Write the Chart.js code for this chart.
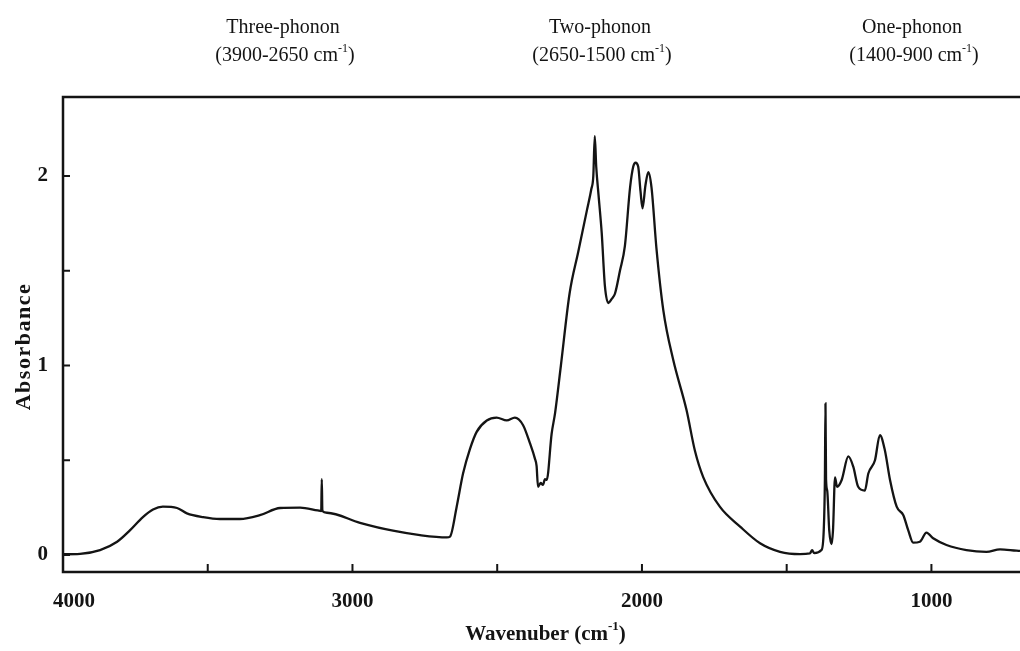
<!DOCTYPE html>
<html>
<head>
<meta charset="utf-8">
<script src="https://cdn.jsdelivr.net/npm/chart.js@4.4.1/dist/chart.umd.min.js"></script>
<style>
  html, body { margin: 0; padding: 0; background: #ffffff; }
  #wrap { width: 1020px; height: 651px; }
</style>
</head>
<body>
<div id="wrap"><canvas id="spectrum" width="1020" height="651"></canvas></div>
<script>
// ─── Data ─────────────────────────────────────────────────────────────────────

const wavenumbers = [
  4000, 3993, 3941, 3872, 3813, 3769, 3724, 3689, 3655, 3606, 3572, 3516, 3458,
  3389, 3320, 3250, 3181, 3120, 3108, 3106, 3104, 3088, 2974, 2860, 2767, 2674,
  2663, 2640, 2618, 2594, 2571, 2536, 2502, 2467, 2439, 2411, 2387, 2370, 2364,
  2359, 2350, 2342, 2335, 2329, 2312, 2300, 2280, 2250, 2220, 2190, 2175, 2168,
  2163, 2158, 2150, 2139, 2128, 2116, 2105, 2093, 2076, 2059, 2041, 2030, 2022,
  2013, 2005, 1998, 1988, 1978, 1967, 1950, 1926, 1892, 1846, 1817, 1788, 1731,
  1661, 1592, 1523, 1454, 1420, 1412, 1405, 1380, 1372, 1368, 1366, 1364, 1360,
  1353, 1345, 1340, 1333, 1326, 1310, 1287, 1270, 1253, 1230, 1218, 1195, 1178,
  1161, 1143, 1120, 1097, 1080, 1063, 1040, 1017, 994, 948, 879, 810, 763, 706, 694,
];

const absorbance = [
  0.005, 0.004, 0.006, 0.026, 0.07, 0.13, 0.2, 0.24, 0.255, 0.248, 0.22, 0.2, 0.19,
  0.19, 0.21, 0.248, 0.25, 0.235, 0.232, 0.4, 0.232, 0.223, 0.17, 0.128, 0.105, 0.093,
  0.097, 0.255, 0.43, 0.56, 0.65, 0.71, 0.725, 0.71, 0.725, 0.686, 0.59, 0.51, 0.47,
  0.36, 0.38, 0.37, 0.4, 0.396, 0.64, 0.75, 1.0, 1.38, 1.6, 1.82, 1.93, 2.0,
  2.21, 2.05, 1.9, 1.7, 1.42, 1.33, 1.35, 1.38, 1.5, 1.63, 1.94, 2.05, 2.07,
  2.05, 1.92, 1.83, 1.95, 2.02, 1.94, 1.62, 1.29, 1.03, 0.765, 0.55, 0.41, 0.255,
  0.15, 0.062, 0.017, 0.005, 0.008, 0.025, 0.01, 0.026, 0.13, 0.4, 0.8, 0.4, 0.34,
  0.13, 0.058, 0.13, 0.41, 0.36, 0.396, 0.52, 0.466, 0.36, 0.34, 0.43, 0.5, 0.633,
  0.554, 0.396, 0.255, 0.21, 0.13, 0.065, 0.07, 0.118, 0.088, 0.053, 0.026, 0.017, 0.03, 0.023, 0.022,
];

const xMajorTicks = [4000, 3000, 2000, 1000];
const xMinorTicks = [3500, 2500, 1500];
const yMajorTicks = [0, 1, 2];
const yMinorTicks = [0.5, 1.5];

const phononNames = ['Three-phonon', 'Two-phonon', 'One-phonon'];
const phononRanges = ['(3900-2650 cm^-1)', '(2650-1500 cm^-1)', '(1400-900 cm^-1)'];
const phononAnchors = [3240, 2145, 1067];

const X_TITLE = 'Wavenuber (cm^-1)';
const Y_TITLE = 'Absorbance';

// ─── Drawing helpers ──────────────────────────────────────────────────────────

const INK = '#141414';
const SERIF = '"Liberation Serif", "DejaVu Serif", serif';

// draws text where "^-1" becomes a superscript, centred at x
const drawRich = (ctx, text, x, y, size, weight) => {
  const parts = text.split(/\^(-?\d+)/);
  const main = `${weight} ${size}px ${SERIF}`;
  const sup = `${weight} ${Math.round(size * 0.62)}px ${SERIF}`;
  let total = 0;
  parts.forEach((p, i) => {
    ctx.font = i % 2 ? sup : main;
    total += ctx.measureText(p).width;
  });
  let cx = x - total / 2;
  ctx.textAlign = 'left';
  parts.forEach((p, i) => {
    ctx.font = i % 2 ? sup : main;
    ctx.fillText(p, cx, i % 2 ? y - size * 0.38 : y);
    cx += ctx.measureText(p).width;
  });
};

const frame = {
  id: 'frame',
  afterDraw(chart) {
    const { ctx, chartArea: a, scales: { x, y } } = chart;
    ctx.save();
    ctx.strokeStyle = INK;
    ctx.fillStyle = INK;
    ctx.lineWidth = 2.5;
    ctx.lineCap = 'square';

    ctx.beginPath();
    ctx.moveTo(a.right + 2, a.top);
    ctx.lineTo(a.left, a.top);
    ctx.lineTo(a.left, a.bottom);
    ctx.lineTo(a.right + 2, a.bottom);
    ctx.stroke();

    // inward tick marks
    ctx.lineWidth = 2;
    ctx.beginPath();
    [...xMajorTicks, ...xMinorTicks].forEach((v) => {
      const px = x.getPixelForValue(v);
      ctx.moveTo(px, a.bottom);
      ctx.lineTo(px, a.bottom - 7);
    });
    [...yMajorTicks, ...yMinorTicks].forEach((v) => {
      const py = y.getPixelForValue(v);
      ctx.moveTo(a.left, py);
      ctx.lineTo(a.left + 6, py);
    });
    ctx.stroke();

    // tick labels
    ctx.font = `bold 21px ${SERIF}`;
    ctx.textBaseline = 'middle';
    xMajorTicks.forEach((v) => {
      const px = x.getPixelForValue(v);
      if (px <= a.left + 1) {
        ctx.textAlign = 'left';
        ctx.fillText(String(v), a.left - 10, a.bottom + 30);
      } else {
        ctx.textAlign = 'center';
        ctx.fillText(String(v), px, a.bottom + 30);
      }
    });
    ctx.textAlign = 'right';
    yMajorTicks.forEach((v) => {
      ctx.fillText(String(v), a.left - 15, y.getPixelForValue(v));
    });

    // axis titles
    ctx.textBaseline = 'middle';
    drawRich(ctx, X_TITLE, (a.left + a.right) / 2 + 4, a.bottom + 63, 21, 'bold');

    ctx.save();
    ctx.translate(24, y.getPixelForValue(1.1));
    ctx.rotate(-Math.PI / 2);
    ctx.font = `bold 22px ${SERIF}`;
    ctx.letterSpacing = '1.5px';
    ctx.textAlign = 'center';
    ctx.fillText(Y_TITLE, 0, 0);
    ctx.restore();

    // region annotations above the frame
    phononNames.forEach((name, i) => {
      const px = x.getPixelForValue(phononAnchors[i]);
      ctx.font = `20px ${SERIF}`;
      ctx.textAlign = 'center';
      ctx.fillText(name, px, 28);
      drawRich(ctx, phononRanges[i], px + 2, 56, 20, 'normal');
    });

    ctx.restore();
  },
};

// ─── Chart ────────────────────────────────────────────────────────────────────

const points = wavenumbers.map((w, i) => ({ x: w, y: absorbance[i] }));

new Chart(document.getElementById('spectrum'), {
  type: 'line',
  data: {
    datasets: [
      {
        data: points,
        borderColor: INK,
        borderWidth: 2.3,
        pointRadius: 0,
        cubicInterpolationMode: 'monotone',
        fill: false,
      },
    ],
  },
  options: {
    responsive: false,
    animation: false,
    devicePixelRatio: 1,
    layout: { padding: { top: 97, right: 0, left: 0, bottom: 0 } },
    plugins: { legend: { display: false }, tooltip: { enabled: false } },
    scales: {
      x: {
        type: 'linear',
        reverse: true,
        min: 694,
        max: 4000,
        grid: { display: false },
        border: { display: false },
        ticks: { display: false },
        afterFit: (s) => { s.height = 79; },
      },
      y: {
        min: -0.0897,
        max: 2.417,
        grid: { display: false },
        border: { display: false },
        ticks: { display: false },
        afterFit: (s) => { s.width = 63; },
      },
    },
  },
  plugins: [frame],
});
</script>
</body>
</html>
